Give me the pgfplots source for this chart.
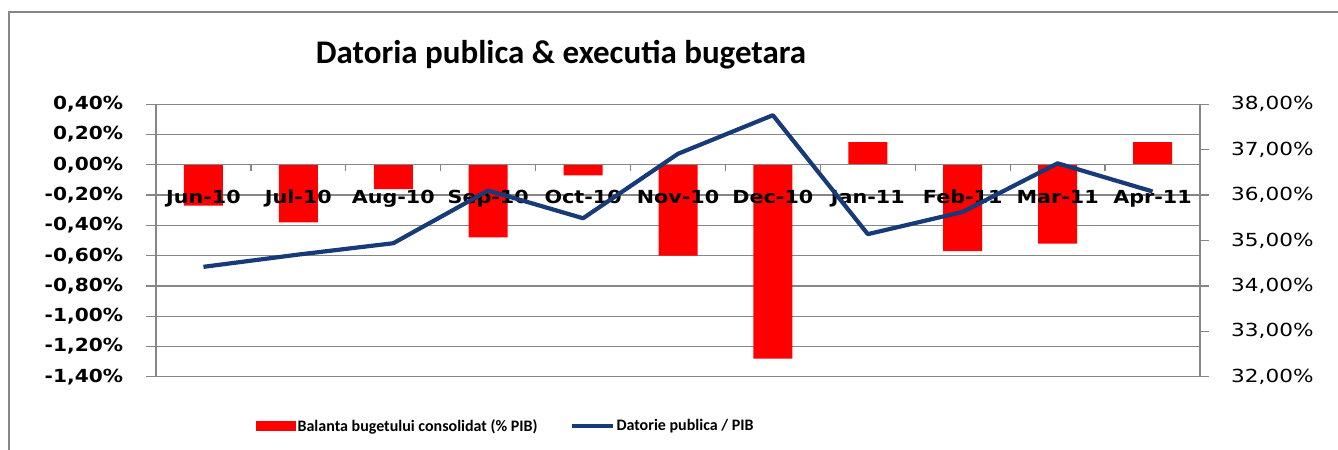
\documentclass[border=0pt]{standalone}
\usepackage{pgfplots}
\pgfplotsset{compat=1.18}
\usepackage{fontspec}
\setmainfont{DejaVu Sans}
\newfontfamily\calibri{Carlito}
\definecolor{barred}{RGB}{255,0,0}
\definecolor{debtblue}{RGB}{23,58,120}
\definecolor{gridgray}{RGB}{134,134,134}

\pgfplotsset{
  twinbox/.style={
    at={(156bp,73.3bp)}, anchor=south west,
    scale only axis, width=1044bp, height=272.4bp,
    xmin=-0.5, xmax=10.5,
    axis line style={gridgray, line width=1.3bp},
    ytick style={gridgray, line width=1.3bp},
    /pgf/number format/assume math mode=true,
    yticklabel={\pgfmathprintnumber[fixed,fixed zerofill,precision=2,use comma]{\tick}\%},
    ytick align=outside,
  },
}

\begin{document}
\begin{tikzpicture}
\useasboundingbox (0,0) rectangle (1338bp,450bp);
\draw[gridgray, line width=2bp] (9bp,0) -- (9bp,438bp) -- (1338bp,438bp);
\node[font=\calibri\bfseries\fontsize{33bp}{40bp}\selectfont] at (561bp,395bp) {Datoria publica \& executia bugetara};

% left axis: budget balance (% GDP)
\begin{axis}[
  twinbox,
  ybar, bar width=39bp,
  hide x axis,
  ymin=-1.4, ymax=0.4,
  ytick={-1.4,-1.2,-1,-0.8,-0.6,-0.4,-0.2,0,0.2,0.4},
  ytick pos=left,
  yticklabel style={font=\bfseries\fontsize{18bp}{20bp}\selectfont, xscale=1.12, xshift=-17bp},
  ymajorgrids, grid style={gridgray, line width=1.3bp},
  major tick length=10bp,
]
\addplot[fill=barred, draw=none] coordinates {
  (0,-0.27) (1,-0.38) (2,-0.16) (3,-0.48) (4,-0.07) (5,-0.60)
  (6,-1.28) (7,0.15) (8,-0.57) (9,-0.52) (10,0.15)
};
\end{axis}

% zero line with the month labels, drawn over the bars
\begin{axis}[
  twinbox,
  ymin=-1.4, ymax=0.4,
  axis x line=middle, hide y axis,
  x axis line style={-},
  major tick length=6bp,
  xtick={0.5,1.5,...,9.5},
  xticklabels={},
  xtick align=outside,
  xtick style={gridgray, line width=1.3bp},
  extra x ticks={0,...,10},
  extra x tick labels={Jun-10,Jul-10,Aug-10,Sep-10,Oct-10,Nov-10,Dec-10,Jan-11,Feb-11,Mar-11,Apr-11},
  extra x tick style={major tick length=0pt,
    xticklabel style={font=\bfseries\fontsize{18bp}{20bp}\selectfont, xscale=1.15, anchor=base, yshift=-39bp}},
]
\end{axis}

% right axis: public debt / GDP
\begin{axis}[
  twinbox,
  hide x axis,
  ymin=32, ymax=38,
  ytick={32,...,38},
  ytick pos=right, yticklabel pos=right,
  yticklabel style={font=\fontsize{18bp}{20bp}\selectfont, xscale=1.2, xshift=15bp},
  major tick length=9bp,
  legend style={at={(0.0958,-0.181)}, anchor=west, draw=none, fill=none,
    inner sep=0pt, legend columns=2,
    font=\calibri\bfseries\fontsize{16bp}{18bp}\selectfont,
    /tikz/every even column/.append style={column sep=30bp}},
  legend cell align=left,
]
\addlegendimage{legend image code/.code={\fill[barred] (0bp,-4.5bp) rectangle (39bp,4.5bp);}}
\addlegendentry{Balanta bugetului consolidat (\% PIB)}
\addlegendimage{legend image code/.code={\draw[debtblue, line width=4bp] (0bp,0bp) -- (41bp,0bp);}}
\addlegendentry{Datorie publica / PIB}
\addplot[debtblue, line width=4.2bp, line join=round, forget plot] coordinates {
  (0,34.42) (1,34.69) (2,34.94) (3,36.10) (4,35.49) (5,36.91)
  (6,37.76) (7,35.14) (8,35.63) (9,36.70) (10,36.08)
};
\end{axis}
\end{tikzpicture}
\end{document}
